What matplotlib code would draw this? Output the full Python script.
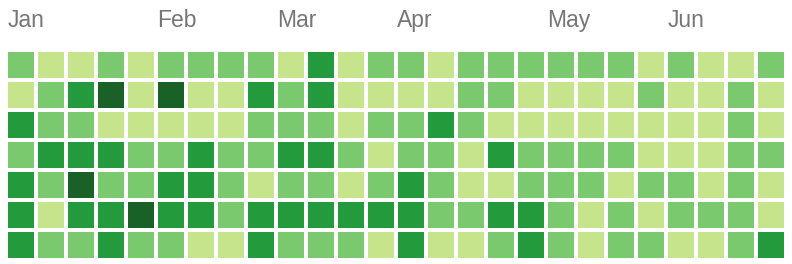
import matplotlib
matplotlib.use("Agg")
import matplotlib.pyplot as plt
from matplotlib.patches import Rectangle

# Contribution levels: 1=light, 2=mid, 3=dark, 4=darkest ; rows = weekdays, cols = weeks
row0 = [2, 1, 1, 2, 1, 2, 2, 2, 2, 1, 3, 1, 2, 2, 1, 2, 2, 2, 2, 2, 2, 1, 2, 1, 1, 2]
row1 = [1, 2, 3, 4, 1, 4, 1, 1, 3, 2, 3, 1, 1, 1, 1, 2, 2, 1, 1, 1, 1, 2, 1, 1, 2, 1]
row2 = [3, 2, 2, 1, 1, 1, 1, 1, 2, 2, 2, 1, 2, 2, 3, 2, 1, 1, 1, 1, 1, 1, 1, 1, 2, 1]
row3 = [2, 3, 3, 3, 2, 2, 3, 2, 2, 3, 3, 2, 1, 2, 2, 1, 3, 2, 2, 2, 2, 1, 1, 1, 2, 2]
row4 = [3, 2, 4, 2, 2, 3, 3, 2, 1, 2, 2, 1, 2, 3, 2, 1, 1, 2, 2, 2, 1, 2, 2, 1, 2, 1]
row5 = [3, 1, 3, 3, 4, 3, 3, 2, 3, 3, 3, 3, 3, 3, 2, 2, 3, 3, 2, 1, 2, 1, 2, 2, 2, 1]
row6 = [3, 2, 2, 3, 2, 2, 1, 1, 3, 2, 2, 2, 1, 3, 1, 1, 2, 3, 2, 1, 2, 2, 1, 1, 2, 3]
levels = [row0, row1, row2, row3, row4, row5, row6]

level_colors = ["#ebedf0", "#c6e48b", "#7bc96f", "#239a3b", "#196127"]

months = ["Jan", "Feb", "Mar", "Apr", "May", "Jun"]
month_cols = [0, 5, 9, 13, 18, 22]

W, H = 792, 264
fig = plt.figure(figsize=(W / 100, H / 100), dpi=100)
ax = fig.add_axes([0, 0, 1, 1])
pitch = 30.0
cell = 26.0 / pitch
x0, y0 = 8.0, 52.0
ax.set_xlim(-x0 / pitch, (W - x0) / pitch)
ax.set_ylim((H - y0) / pitch, -y0 / pitch)
ax.axis("off")

for r, row in enumerate(levels):
    for c, lv in enumerate(row):
        ax.add_patch(Rectangle((c, r), cell, cell, facecolor=level_colors[lv],
                               edgecolor="none"))

for name, col in zip(months, month_cols):
    ax.text(col - 0.02, (27 - y0) / pitch, name, ha="left", va="baseline",
            fontsize=16.5, color="#767676", family=["Liberation Sans", "DejaVu Sans"])

fig.savefig("out.png", dpi=100)
